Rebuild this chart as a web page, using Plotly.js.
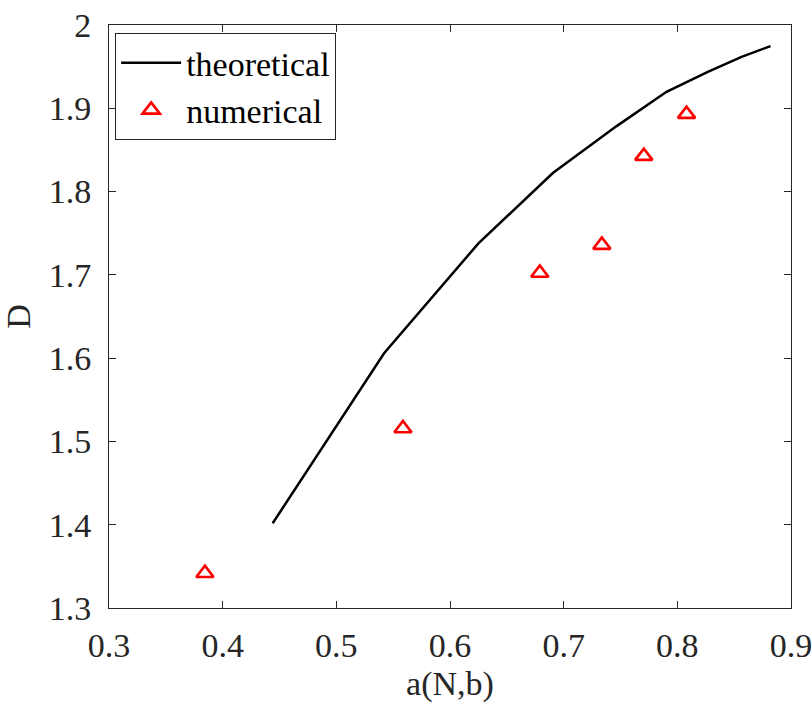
<!DOCTYPE html>
<html>
<head>
<meta charset="utf-8">
<script src="https://cdn.plot.ly/plotly-3.0.1.min.js"></script>
<style>html,body{margin:0;padding:0;background:#fff;}#chart{width:812px;height:703px;}</style>
</head>
<body>
<div id="chart"></div>
<script>
const theoreticalX = [0.444, 0.542, 0.625, 0.6905, 0.7466, 0.7905, 0.8268, 0.8565, 0.882];
const theoreticalY = [1.4017, 1.6058, 1.7378, 1.8222, 1.8786, 1.9198, 1.9438, 1.9618, 1.9747];
const numericalX = [0.3844, 0.5586, 0.679, 0.7336, 0.7705, 0.8081];
const numericalY = [1.3417, 1.5155, 1.7022, 1.7358, 1.8426, 1.893];
const xTicks = [0.3, 0.4, 0.5, 0.6, 0.7, 0.8, 0.9];
const yTicks = [1.3, 1.4, 1.5, 1.6, 1.7, 1.8, 1.9, 2];

const FONT = "Liberation Serif";
const AX = '#262626';

const traces = [
  {x: theoreticalX, y: theoreticalY, mode: 'lines', name: 'theoretical',
   line: {color: '#000000', width: 2.5}},
  {x: numericalX, y: numericalY, mode: 'markers', name: 'numerical',
   marker: {symbol: 'triangle-up-open', size: 15, color: '#ff0000', line: {color: '#ff0000', width: 2.7}}}
];

function axisCommon() {
  return {
    showgrid: false, zeroline: false, showline: true, linecolor: AX, linewidth: 1,
    mirror: 'ticks', ticks: 'inside', ticklen: 7, tickwidth: 1, tickcolor: AX,
    ticklabeloverflow: 'allow',
    tickfont: {family: FONT, size: 34, color: AX}
  };
}

const layout = {
  width: 812, height: 703,
  margin: {l: 109, r: 21, t: 25, b: 95},
  paper_bgcolor: '#ffffff', plot_bgcolor: '#ffffff',
  font: {family: FONT, color: AX},
  xaxis: Object.assign(axisCommon(), {
    range: [0.3, 0.9], tickvals: xTicks, ticktext: xTicks.map(String),
    ticklabelstandoff: 7,
    title: {text: 'a(N,b)', font: {family: FONT, size: 34, color: AX}, standoff: 9}
  }),
  yaxis: Object.assign(axisCommon(), {
    range: [1.3, 2], tickvals: yTicks, ticktext: yTicks.map(String),
    ticklabelstandoff: 10,
    title: {text: 'D', font: {family: FONT, size: 34, color: AX}, standoff: 7}
  }),
  legend: {
    x: 0.009, y: 0.986, xanchor: 'left', yanchor: 'top',
    bgcolor: '#ffffff', bordercolor: AX, borderwidth: 1,
    font: {family: FONT, size: 34, color: '#000000'},
    itemwidth: 60, tracegroupgap: 0
  },
  showlegend: true
};

Plotly.newPlot('chart', traces, layout, {displayModeBar: false, staticPlot: true});
</script>
</body>
</html>
